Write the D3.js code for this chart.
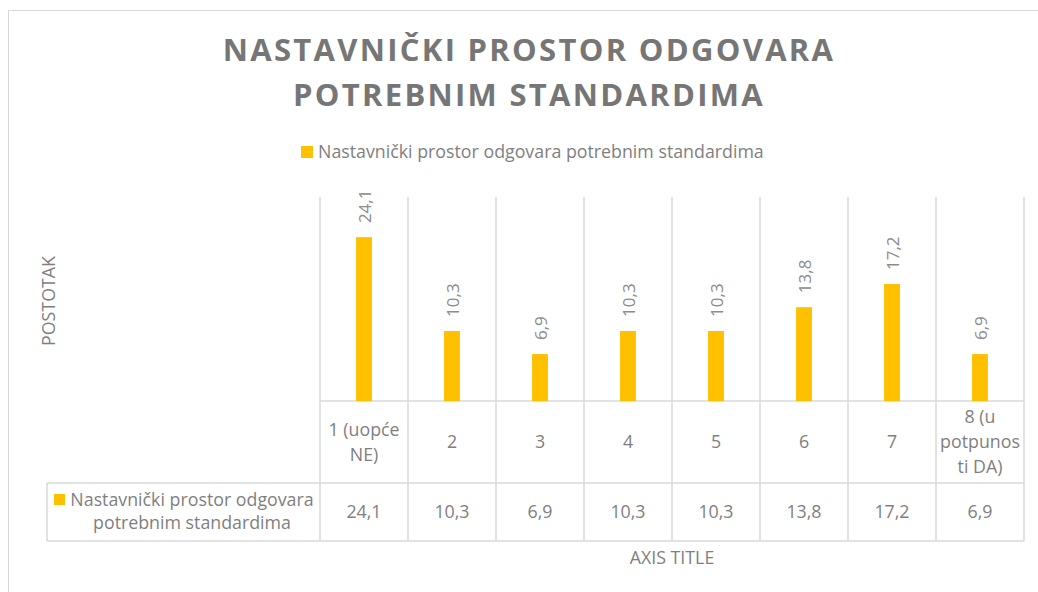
<!DOCTYPE html>
<html>
<head>
<meta charset="utf-8">
<style>
    body { margin: 0; background: #fff; }
    svg text { font-family: "Open Sans", sans-serif; fill: #7f7f7f; }
</style>
</head>
<body>
<div id="chart"></div>
<script src="https://cdnjs.cloudflare.com/ajax/libs/d3/7.8.5/d3.min.js"></script>
<script>
    // chart data
    const titleLines = ["NASTAVNIČKI PROSTOR ODGOVARA", "POTREBNIM STANDARDIMA"];
    const seriesName = "Nastavnički prostor odgovara potrebnim standardima";
    const seriesNameLines = ["Nastavnički prostor odgovara", "potrebnim standardima"];
    const categories = ["1 (uopće NE)", "2", "3", "4", "5", "6", "7", "8 (u potpunosti DA)"];
    const categoryLines = [["1 (uopće", "NE)"], ["2"], ["3"], ["4"], ["5"], ["6"], ["7"], ["8 (u", "potpunos", "ti DA)"]];
    const values = [24.1, 10.3, 6.9, 10.3, 10.3, 13.8, 17.2, 6.9];
    const yAxisTitle = "POSTOTAK";
    const xAxisTitle = "AXIS TITLE";

    const width = 1038, height = 592;
    const barColor = "#FFC000";
    const gridColor = "#d9d9d9";
    const textSize = "17.8px";
    const fmt = v => d3.format(".1f")(v).replace(".", ",");

    const svg = d3.select("#chart").append("svg")
        .attr("width", width)
        .attr("height", height);

    // outer chart border (runs off the right and bottom)
    svg.append("rect")
        .attr("x", 8.5).attr("y", 10.5)
        .attr("width", 1040).attr("height", 600)
        .attr("fill", "none")
        .attr("stroke", gridColor);

    // title
    svg.append("g").selectAll("text")
        .data(titleLines)
        .join("text")
        .attr("x", 529)
        .attr("y", (d, i) => 61 + i * 45)
        .attr("text-anchor", "middle")
        .style("font-size", "31px")
        .style("font-weight", "bold")
        .style("letter-spacing", "2.3px")
        .style("fill", "#767676")
        .text(d => d);

    // legend
    const legend = svg.append("g");
    legend.append("rect")
        .attr("x", 301).attr("y", 146)
        .attr("width", 12).attr("height", 12)
        .attr("fill", barColor);
    legend.append("text")
        .attr("x", 318).attr("y", 158)
        .style("font-size", textSize)
        .text(seriesName);

    // scales
    const plot = { left: 320, right: 1024, top: 197, bottom: 401 };
    const x = d3.scaleBand()
        .domain(categories)
        .range([plot.left, plot.right]);
    const y = d3.scaleLinear()
        .domain([0, 30])
        .range([plot.bottom, plot.top]);

    const rowTop = 483, tableBottom = 541, headerLeft = 47;

    // vertical grid lines, down through the data table
    svg.append("g").selectAll("line")
        .data(categories.concat([null]))
        .join("line")
        .attr("x1", (d, i) => i < categories.length ? x(d) : plot.right)
        .attr("x2", (d, i) => i < categories.length ? x(d) : plot.right)
        .attr("y1", plot.top)
        .attr("y2", tableBottom)
        .attr("stroke", gridColor)
        .attr("stroke-width", 1.5);

    // horizontal lines of the axis and table
    const hLines = [[plot.left, plot.bottom], [headerLeft, rowTop], [headerLeft, tableBottom]];
    svg.append("g").selectAll("line")
        .data(hLines)
        .join("line")
        .attr("x1", d => d[0])
        .attr("x2", plot.right)
        .attr("y1", d => d[1])
        .attr("y2", d => d[1])
        .attr("stroke", gridColor)
        .attr("stroke-width", 1.5);
    svg.append("line")
        .attr("x1", headerLeft).attr("x2", headerLeft)
        .attr("y1", rowTop).attr("y2", tableBottom)
        .attr("stroke", gridColor)
        .attr("stroke-width", 1.5);

    // bars
    const barW = x.bandwidth() * 0.18;
    svg.append("g").selectAll("rect")
        .data(values)
        .join("rect")
        .attr("x", (d, i) => x(categories[i]) + (x.bandwidth() - barW) / 2)
        .attr("y", d => y(d))
        .attr("width", barW)
        .attr("height", d => y(0) - y(d))
        .attr("fill", barColor);

    // rotated value labels
    svg.append("g").selectAll("text")
        .data(values)
        .join("text")
        .attr("transform", (d, i) => `translate(${x(categories[i]) + x.bandwidth() / 2 + 1},${y(d) - 14}) rotate(-90)`)
        .attr("dy", "0.35em")
        .style("font-size", "17px")
        .style("fill", "#8c8c8c")
        .text(fmt);

    // category labels in table header row
    const catG = svg.append("g").selectAll("text")
        .data(categoryLines)
        .join("text")
        .attr("text-anchor", "middle")
        .style("font-size", textSize)
        .attr("transform", (d, i) => `translate(${x(categories[i]) + x.bandwidth() / 2},${(plot.bottom + rowTop) / 2})`);
    catG.selectAll("tspan")
        .data(d => d.map((t, j) => ({ t, j, n: d.length })))
        .join("tspan")
        .attr("x", 0)
        .attr("y", d => (d.j - (d.n - 1) / 2) * 25)
        .attr("dy", "0.35em")
        .text(d => d.t);

    // data row values
    svg.append("g").selectAll("text")
        .data(values)
        .join("text")
        .attr("x", (d, i) => x(categories[i]) + x.bandwidth() / 2)
        .attr("y", (rowTop + tableBottom) / 2)
        .attr("dy", "0.35em")
        .attr("text-anchor", "middle")
        .style("font-size", textSize)
        .text(fmt);

    // row header with legend key
    svg.append("rect")
        .attr("x", 54).attr("y", 494)
        .attr("width", 11).attr("height", 11)
        .attr("fill", barColor);
    svg.append("g").selectAll("text")
        .data(seriesNameLines)
        .join("text")
        .attr("x", 192)
        .attr("y", (d, i) => 500 + i * 23)
        .attr("dy", "0.35em")
        .attr("text-anchor", "middle")
        .style("font-size", textSize)
        .text(d => d);

    // axis titles
    svg.append("text")
        .attr("transform", "translate(49,301) rotate(-90)")
        .attr("dy", "0.35em")
        .attr("text-anchor", "middle")
        .style("font-size", textSize)
        .text(yAxisTitle);
    svg.append("text")
        .attr("x", 672).attr("y", 558)
        .attr("dy", "0.35em")
        .attr("text-anchor", "middle")
        .style("font-size", textSize)
        .text(xAxisTitle);
</script>
</body>
</html>
